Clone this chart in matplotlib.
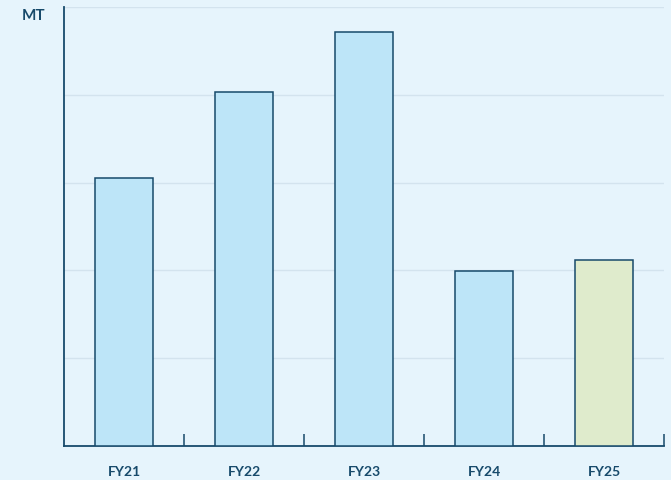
import matplotlib
matplotlib.use('Agg')
import numpy as np
import matplotlib.pyplot as plt

categories = ['FY21', 'FY22', 'FY23', 'FY24', 'FY25']
values = [3.05, 4.03, 4.72, 1.99, 2.12]
bar_colors = ['#bde5f8', '#bde5f8', '#bde5f8', '#bde5f8', '#dfebcc']
unit_label = 'MT'

bg = '#e6f4fc'
dark = '#174a6b'

plt.rcParams['font.family'] = ['Lato', 'DejaVu Sans']

fig = plt.figure(figsize=(6.71, 4.81), dpi=100, facecolor=bg)
ax = fig.add_axes([64 / 671, 34 / 481, 600 / 671, 439 / 481], facecolor=bg)

x = np.arange(len(categories))
ax.bar(x, values, width=0.48, color=bar_colors, edgecolor=dark, linewidth=1.1, zorder=3)

ax.set_xlim(-0.5, len(categories) - 0.5)
ax.set_ylim(0, 5)
ax.set_yticks(np.arange(1, 6))
ax.yaxis.grid(True, color='#d3e3ee', linewidth=1.0, zorder=0)
ax.tick_params(axis='y', length=0, labelleft=False)

ax.set_xticks(x)
ax.set_xticklabels(categories, fontsize=10, fontweight='bold', color=dark)
ax.tick_params(axis='x', length=0, pad=14)
ax.set_xticks(x[1:] - 0.5 if False else np.append(x[1:] - 0.5, len(categories) - 0.5), minor=True)
ax.tick_params(axis='x', which='minor', direction='in', length=9, width=1.1, color=dark)

for side in ['top', 'right']:
    ax.spines[side].set_visible(False)
for side in ['left', 'bottom']:
    ax.spines[side].set_color(dark)
    ax.spines[side].set_linewidth(1.3)

fig.text(34 / 671, 1 - 16 / 481, unit_label, fontsize=11, fontweight='bold', color=dark,
         ha='center', va='center')

fig.savefig('out.png', dpi=100, facecolor=bg)
